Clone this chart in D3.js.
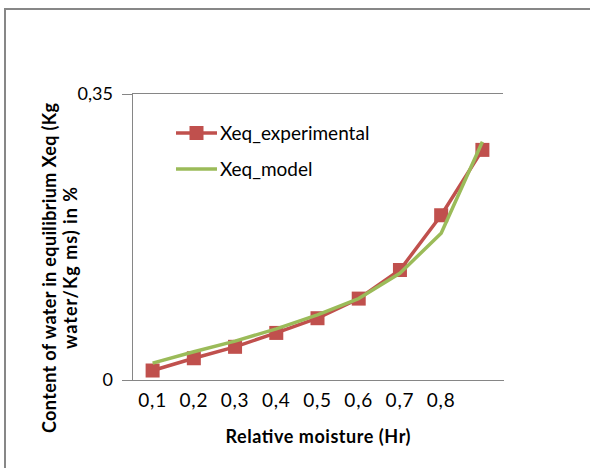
<!DOCTYPE html>
<html>
<head>
<meta charset="utf-8">
<script src="https://cdn.jsdelivr.net/npm/d3@7"></script>
<style>
  html, body { margin: 0; padding: 0; background: #fff; }
  svg { display: block; }
  text { font-family: Lato, "Open Sans", sans-serif; fill: #000; }
</style>
</head>
<body>
<svg id="chart" width="590" height="468"></svg>
<script>
// ---- data ----
const humidity = [0.1, 0.2, 0.3, 0.4, 0.5, 0.6, 0.7, 0.8, 0.9];
const tickLabels = ["0,1", "0,2", "0,3", "0,4", "0,5", "0,6", "0,7", "0,8", ""];
const xeqExperimental = [0.011, 0.026, 0.040, 0.057, 0.075, 0.099, 0.134, 0.201, 0.281];
const xeqModel = [0.020, 0.034, 0.047, 0.062, 0.079, 0.099, 0.130, 0.179, 0.291];
const yTicks = [0, 0.35];
const yTickLabels = ["0", "0,35"];
const seriesNames = ["Xeq_experimental", "Xeq_model"];
const xTitle = "Relative moisture (Hr)";
const yTitleLines = ["Content of water in equilibrium Xeq (Kg", "water/Kg ms) in %"];

// ---- layout ----
const svg = d3.select("#chart");
const red = "#C0504D", green = "#9BBB59", axisGray = "#868686";
const plot = { left: 132, right: 503, top: 93.5, bottom: 379.5 };

// outer frame
svg.append("rect")
  .attr("x", 5).attr("y", 9).attr("width", 620).attr("height", 480)
  .attr("fill", "none").attr("stroke", "#878787").attr("stroke-width", 2);

const x = d3.scaleBand().domain(humidity).range([plot.left, plot.right]).paddingInner(0).paddingOuter(0);
const y = d3.scaleLinear().domain([0, 0.35]).range([plot.bottom, plot.top]);
const cx = d => x(d) + x.bandwidth() / 2;

// top gridline
svg.append("line")
  .attr("x1", plot.left).attr("x2", plot.right)
  .attr("y1", y(0.35)).attr("y2", y(0.35))
  .attr("stroke", axisGray).attr("stroke-width", 1).attr("shape-rendering", "crispEdges");

// y axis
const yAxis = d3.axisLeft(y).tickValues(yTicks).tickSize(10).tickPadding(9)
  .tickFormat((d, i) => yTickLabels[i]);
const gy = svg.append("g").attr("transform", `translate(${plot.left},0)`).call(yAxis);
gy.select(".domain").attr("stroke", axisGray).attr("shape-rendering", "crispEdges");
gy.selectAll(".tick line").attr("stroke", axisGray).attr("shape-rendering", "crispEdges");
gy.selectAll(".tick text").attr("font-family", "Lato").attr("font-size", 18).attr("fill", "#000");

// x axis
const xAxis = d3.axisBottom(x).tickSize(0).tickPadding(14)
  .tickFormat((d, i) => tickLabels[i]);
const gx = svg.append("g").attr("transform", `translate(0,${plot.bottom})`).call(xAxis);
gx.select(".domain").attr("stroke", axisGray).attr("shape-rendering", "crispEdges");
gx.selectAll(".tick text").attr("font-family", "Lato").attr("font-size", 19)
  .attr("letter-spacing", "0.8px").attr("fill", "#000");

// experimental series
const line = d3.line().x((d, i) => cx(humidity[i])).y(d => y(d));
svg.append("path").datum(xeqExperimental)
  .attr("d", line).attr("fill", "none").attr("stroke", red).attr("stroke-width", 3.5)
  .attr("stroke-linejoin", "round");
const ms = 14;
svg.selectAll("rect.marker").data(xeqExperimental).enter().append("rect")
  .attr("class", "marker")
  .attr("x", (d, i) => cx(humidity[i]) - ms / 2)
  .attr("y", d => y(d) - ms / 2)
  .attr("width", ms).attr("height", ms).attr("fill", red);

// model series
svg.append("path").datum(xeqModel)
  .attr("d", line).attr("fill", "none").attr("stroke", green).attr("stroke-width", 3.5)
  .attr("stroke-linejoin", "round");

// legend
const legend = svg.append("g");
const legY = [133, 169];
[red, green].forEach((c, i) => {
  legend.append("line").attr("x1", 176).attr("x2", 217).attr("y1", legY[i]).attr("y2", legY[i])
    .attr("stroke", c).attr("stroke-width", 3.5);
  if (i === 0) {
    legend.append("rect").attr("x", 196.5 - ms / 2).attr("y", legY[i] - ms / 2)
      .attr("width", ms).attr("height", ms).attr("fill", red);
  }
  legend.append("text").attr("x", 220).attr("y", legY[i]).attr("dy", "0.35em")
    .attr("font-size", 19).text(seriesNames[i]);
});

// x title
svg.append("text").attr("x", 318).attr("y", 443).attr("text-anchor", "middle")
  .attr("font-weight", "bold").attr("font-size", 18)
  .attr("textLength", 185).attr("lengthAdjust", "spacing").text(xTitle);

// y title
const yt = svg.append("text").attr("transform", "translate(0,268) rotate(-90)")
  .attr("text-anchor", "middle").attr("font-weight", "bold").attr("font-size", 18);
yt.append("tspan").attr("x", 0).attr("y", 56)
  .attr("textLength", 330).attr("lengthAdjust", "spacing").text(yTitleLines[0]);
yt.append("tspan").attr("x", 0).attr("y", 77)
  .attr("textLength", 162).attr("lengthAdjust", "spacing").text(yTitleLines[1]);
</script>
</body>
</html>
